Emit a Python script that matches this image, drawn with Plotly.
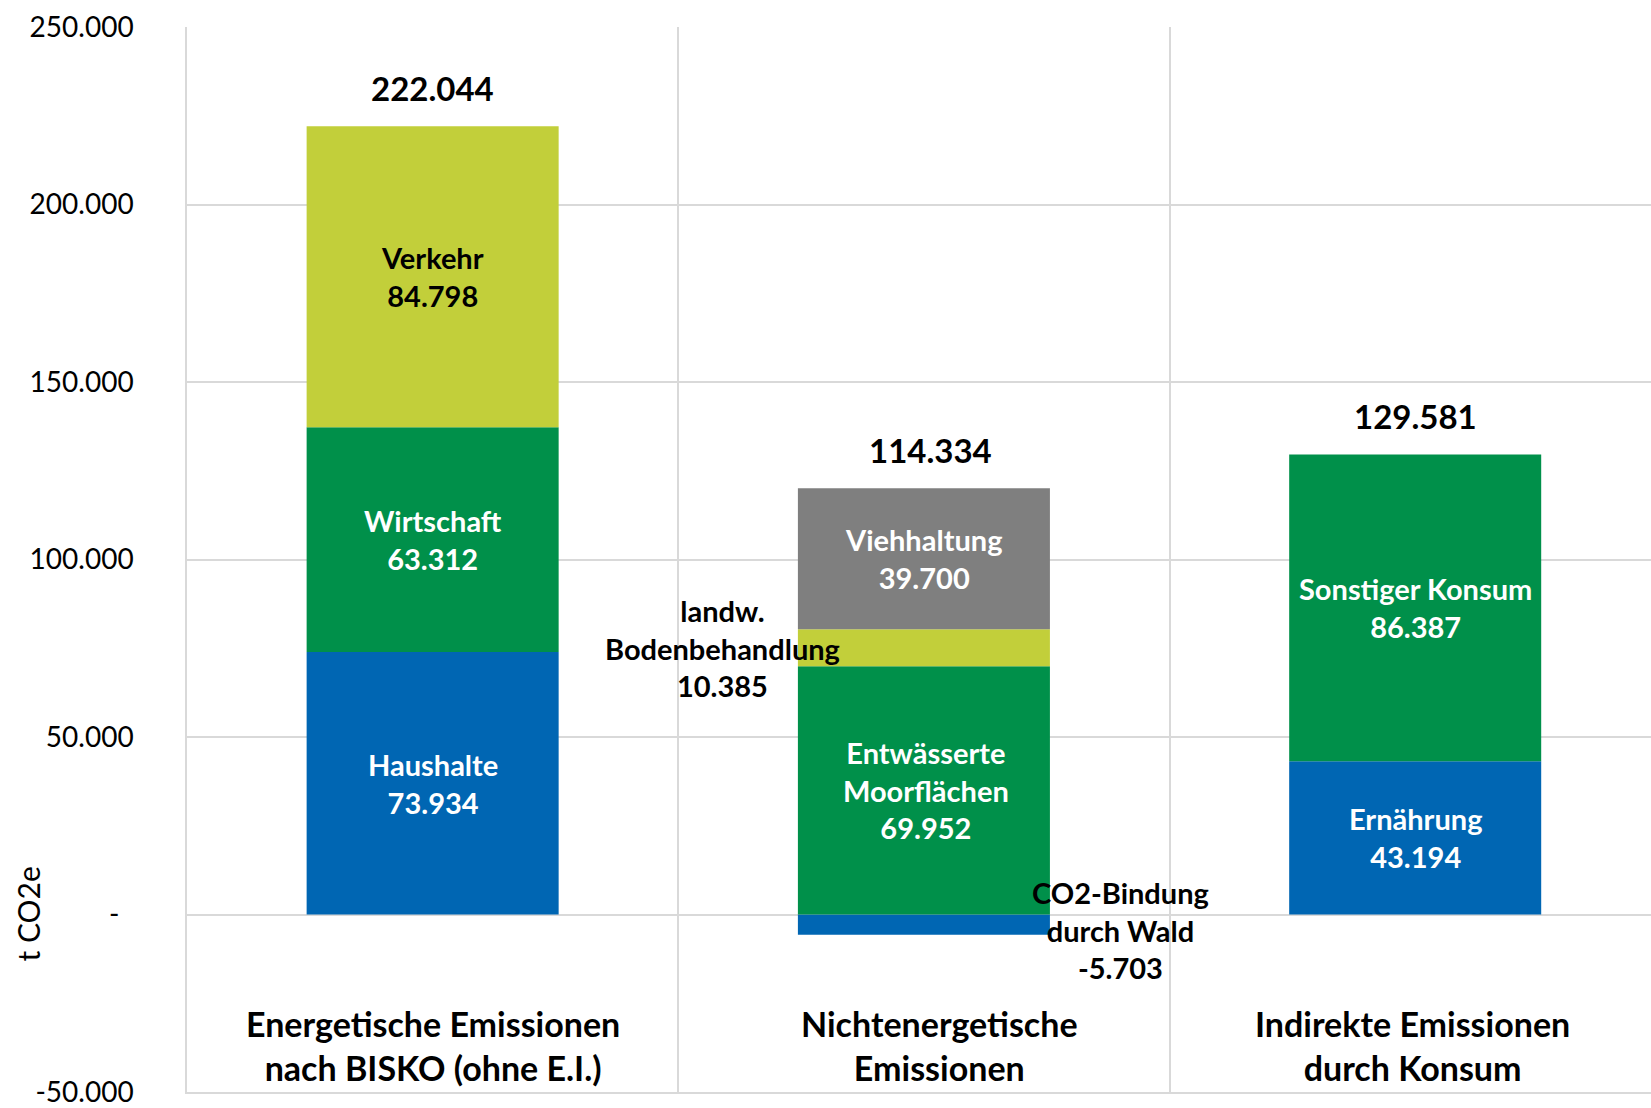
import plotly.graph_objects as go

# ---- data ----
categories = ["Energetische Emissionen<br>nach BISKO (ohne E.I.)",
              "Nichtenergetische<br>Emissionen",
              "Indirekte Emissionen<br>durch Konsum"]

layer1_names = ["Haushalte", "CO2-Bindung<br>durch Wald", "Ernährung"]
layer1_values = [73934, -5703, 43194]
layer2_names = ["Wirtschaft", "Entwässerte<br>Moorflächen", "Sonstiger Konsum"]
layer2_values = [63312, 69952, 86387]
layer3_names = ["Verkehr", "landw.<br>Bodenbehandlung", None]
layer3_values = [84798, 10385, None]
layer4_names = [None, "Viehhaltung", None]
layer4_values = [None, 39700, None]

totals = [222044, 114334, 129581]

y_tickvals = [-50000, 0, 50000, 100000, 150000, 200000, 250000]
y_ticktext = ["-50.000", "-\u00a0\u00a0", "50.000", "100.000", "150.000", "200.000", "250.000"]

# ---- styles ----
BLUE = "#0066B3"
GREEN = "#00904A"
LIME = "#C2CF3A"
GREY = "#7F7F7F"
GRID = "#D9D9D9"
FONT = "Lato"

layers = [
    (layer1_names, layer1_values, BLUE, ["white", "black", "white"]),
    (layer2_names, layer2_values, GREEN, ["white", "white", "white"]),
    (layer3_names, layer3_values, LIME, ["black", "black", "black"]),
    (layer4_names, layer4_values, GREY, ["white", "white", "white"]),
]

def de(v):
    return f"{v:,}".replace(",", ".")

xs = list(range(len(categories)))
fig = go.Figure()
bar_width = 0.513

for names, values, color, tcolors in layers:
    fig.add_trace(go.Bar(x=xs, y=values, marker=dict(color=color, line=dict(width=0)),
                         width=bar_width, showlegend=False, hoverinfo="skip"))

annotations = []
pos_base = [0] * len(categories)
for names, values, color, tcolors in layers:
    for i, (n, v) in enumerate(zip(names, values)):
        if v is None:
            continue
        if v >= 0:
            yc = pos_base[i] + v / 2
            pos_base[i] += v
        else:
            yc = v / 2
        x = i
        yshift = 0
        if n.startswith("landw."):
            x = i - 0.41
        if n.startswith("CO2-Bindung"):
            x = i + 0.40
            yshift = -5
        xshift = 0
        if n.startswith("Entwässerte"):
            xshift = 2
        annotations.append(dict(
            x=x, y=yc, xref="x", yref="y", text=f"{n}<br>{de(v)}", showarrow=False,
            font=dict(family=FONT, size=29, color=tcolors[i], weight="bold"),
            align="center", xanchor="center", yanchor="middle", yshift=yshift, xshift=xshift))

for i, t in enumerate(totals):
    annotations.append(dict(
        x=i, y=pos_base[i], xref="x", yref="y", text=de(t), showarrow=False,
        font=dict(family=FONT, size=33, color="black", weight="bold"),
        xanchor="center", yanchor="bottom", yshift=16, xshift=(7 if i == 1 else 0)))

cat_shift = [0, 16, -3]
for i, c in enumerate(categories):
    annotations.append(dict(
        x=i, y=-37000, xref="x", yref="y", text=c, showarrow=False,
        font=dict(family=FONT, size=34, color="black", weight="bold"),
        align="center", xanchor="center", yanchor="middle", xshift=cat_shift[i]))

annotations.append(dict(
    x=0, y=0, xref="paper", yref="y", xanchor="center", yanchor="middle", xshift=-160,
    text="t CO2e", textangle=-90, showarrow=False,
    font=dict(family=FONT, size=30, color="black")))

fig.update_layout(
    width=1651, height=1108,
    margin=dict(l=187, r=0, t=27, b=11),
    paper_bgcolor="white", plot_bgcolor="white",
    barmode="relative",
    annotations=annotations,
    font=dict(family=FONT, color="black"),
    xaxis=dict(range=[-0.5, 2.48], tickvals=[-0.5, 0.5, 1.5], showticklabels=False,
               showgrid=True, gridcolor=GRID, gridwidth=1.5, zeroline=False,
               showline=True, linecolor=GRID, linewidth=1.5, ticks=""),
    yaxis=dict(range=[-50000, 250000], tickvals=y_tickvals, ticktext=y_ticktext,
               showgrid=True, gridcolor=GRID, gridwidth=1.5, zeroline=True,
               zerolinecolor=GRID, zerolinewidth=1.5,
               showline=True, linecolor=GRID, linewidth=1.5, ticks="",
               ticklabelstandoff=46, ticklabeloverflow="allow",
               tickfont=dict(family=FONT, size=28, color="black")),
)

fig.write_html(
    "out.html",
    config={"displayModeBar": False},
    post_script=("document.body.style.margin='0px';"
                 "document.body.style.overflow='hidden';"
                 "document.documentElement.style.overflow='hidden';"
                 "var d=document.getElementById('{plot_id}');"
                 "d.style.overflow='hidden';"
                 "if(d.parentElement){d.parentElement.style.overflow='hidden';"
                 "d.parentElement.style.height='1108px';}"),
)
